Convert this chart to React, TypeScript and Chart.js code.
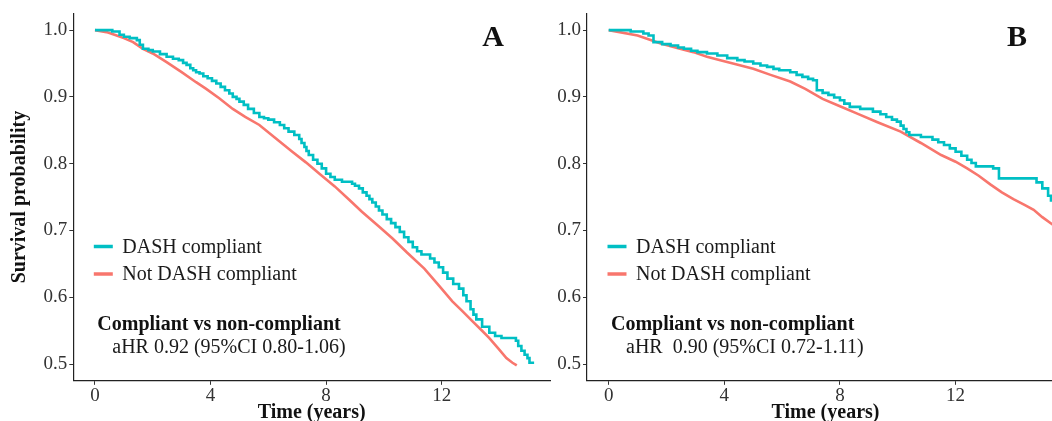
import React, { useEffect, useRef } from "react";
import { Chart, registerables } from "chart.js";
Chart.register(...registerables);

// ---------- data ----------
const xTickValues = [0, 4, 8, 12];
const yTickValues = [0.5, 0.6, 0.7, 0.8, 0.9, 1.0];
const seriesNames = ["DASH compliant", "Not DASH compliant"];
const seriesColors = ["#00BFC4", "#F8766D"];

const panelA_dash_time = [0, 0.6, 0.85, 1.0, 1.2, 1.45, 1.55, 1.66, 1.85, 2.0, 2.25, 2.48, 2.7, 2.9, 3.05, 3.17, 3.3, 3.4, 3.5, 3.62, 3.75, 3.9, 4.05, 4.2, 4.35, 4.5, 4.65, 4.77, 4.9, 5.0, 5.15, 5.3, 5.5, 5.69, 5.85, 6.0, 6.2, 6.4, 6.55, 6.7, 6.9, 7.07, 7.15, 7.25, 7.32, 7.4, 7.55, 7.7, 7.85, 8.0, 8.15, 8.3, 8.55, 8.9, 9.0, 9.14, 9.27, 9.4, 9.5, 9.6, 9.72, 9.83, 9.95, 10.1, 10.25, 10.4, 10.55, 10.7, 10.85, 11.0, 11.15, 11.3, 11.6, 11.75, 11.9, 12.05, 12.2, 12.4, 12.6, 12.75, 12.86, 13.0, 13.1, 13.2, 13.4, 13.65, 13.85, 14.07, 14.57, 14.65, 14.76, 14.87, 14.97, 15.04, 15.2];
const panelA_dash_surv = [1, 0.998, 0.993, 0.99, 0.988, 0.985, 0.978, 0.972, 0.97, 0.968, 0.964, 0.96, 0.957, 0.955, 0.951, 0.948, 0.943, 0.94, 0.937, 0.935, 0.931, 0.928, 0.924, 0.92, 0.915, 0.91, 0.905, 0.9, 0.897, 0.893, 0.888, 0.882, 0.876, 0.87, 0.868, 0.866, 0.862, 0.858, 0.853, 0.848, 0.843, 0.837, 0.831, 0.825, 0.819, 0.813, 0.806, 0.8, 0.793, 0.785, 0.78, 0.776, 0.773, 0.77, 0.767, 0.763, 0.757, 0.752, 0.747, 0.742, 0.736, 0.73, 0.724, 0.717, 0.711, 0.705, 0.698, 0.69, 0.683, 0.675, 0.669, 0.664, 0.658, 0.652, 0.645, 0.637, 0.628, 0.62, 0.613, 0.603, 0.594, 0.582, 0.574, 0.567, 0.556, 0.547, 0.542, 0.539, 0.535, 0.527, 0.52, 0.514, 0.509, 0.502, 0.502];

const panelA_not_time = [0, 0.4, 0.75, 1.0, 1.32, 1.66, 2.0, 2.48, 3.0, 3.5, 3.85, 4.3, 4.77, 5.2, 5.69, 6.2, 6.83, 7.3, 7.8, 8.3, 8.8, 9.24, 9.8, 10.3, 10.8, 11.4, 11.9, 12.37, 12.7, 13.07, 13.4, 13.65, 13.95, 14.24, 14.45, 14.6];
const panelA_not_surv = [1, 0.997, 0.992, 0.988, 0.982, 0.972, 0.965, 0.952, 0.937, 0.922, 0.912, 0.898, 0.882, 0.87, 0.858, 0.84, 0.818, 0.802, 0.784, 0.766, 0.746, 0.728, 0.707, 0.688, 0.667, 0.643, 0.618, 0.594, 0.58, 0.564, 0.55, 0.539, 0.524, 0.509, 0.502, 0.498];

const panelB_dash_time = [0, 0.76, 1.2, 1.38, 1.55, 1.85, 2.14, 2.4, 2.6, 2.85, 3.07, 3.4, 3.76, 4.1, 4.45, 4.7, 5.0, 5.25, 5.48, 5.7, 5.9, 6.28, 6.5, 6.7, 6.9, 7.07, 7.2, 7.4, 7.6, 7.8, 8.0, 8.15, 8.34, 8.7, 9.14, 9.4, 9.6, 9.8, 9.97, 10.1, 10.2, 10.3, 10.4, 10.8, 11.2, 11.4, 11.6, 11.8, 12.0, 12.2, 12.4, 12.55, 12.7, 13.3, 13.5, 14.55, 14.8, 15.0, 15.2, 15.3, 15.45];
const panelB_dash_surv = [1, 0.998, 0.995, 0.992, 0.982, 0.979, 0.977, 0.974, 0.972, 0.969, 0.967, 0.965, 0.962, 0.958, 0.955, 0.953, 0.95, 0.947, 0.945, 0.942, 0.94, 0.937, 0.933, 0.93, 0.927, 0.925, 0.91, 0.906, 0.903, 0.899, 0.895, 0.89, 0.885, 0.882, 0.878, 0.874, 0.87, 0.866, 0.863, 0.857, 0.852, 0.847, 0.843, 0.84, 0.836, 0.832, 0.828, 0.823, 0.818, 0.812, 0.806, 0.801, 0.796, 0.793, 0.778, 0.778, 0.772, 0.763, 0.752, 0.745, 0.74];

const panelB_not_time = [0, 1.0, 1.8, 2.4, 2.93, 3.4, 3.86, 4.4, 5.0, 5.6, 6.28, 6.8, 7.4, 8.0, 8.6, 9.3, 10.1, 10.8, 11.5, 12.0, 12.4, 12.8, 13.2, 13.6, 14.0, 14.4, 14.7, 15.0, 15.35, 15.6];
const panelB_not_surv = [1, 0.992, 0.98, 0.973, 0.967, 0.96, 0.955, 0.949, 0.942, 0.933, 0.923, 0.912, 0.897, 0.886, 0.875, 0.862, 0.848, 0.831, 0.813, 0.803, 0.793, 0.782, 0.769, 0.757, 0.747, 0.738, 0.731, 0.72, 0.709, 0.703];

const panelLetters = ["A", "B"];
const statTitle = "Compliant vs non-compliant";
const statTexts = ["aHR 0.92 (95%CI 0.80-1.06)", "aHR  0.90 (95%CI 0.72-1.11)"];
const xTitle = "Time (years)";
const yTitle = "Survival probability";

// ---------- drawing ----------
const FONT = "'Liberation Serif', 'Times New Roman', serif";
const X_MIN = -0.75, X_MAX = 15.75, Y_MIN = 0.475, Y_MAX = 1.025;

const zip = (t: number[], s: number[]) => t.map((x, i) => ({ x, y: s[i] }));

const panelTextPlugin = {
  id: "panelText",
  afterDraw(chart: any, _args: any, opts: any) {
    const { ctx, chartArea } = chart;
    const L = chartArea.left;
    ctx.save();
    ctx.textBaseline = "middle";
    ctx.textAlign = "left";
    chart.data.datasets.forEach((ds: any, i: number) => {
      const y = opts.legendY[i];
      ctx.strokeStyle = ds.borderColor;
      ctx.lineWidth = 3.5;
      ctx.beginPath();
      ctx.moveTo(L + opts.keyX, y);
      ctx.lineTo(L + opts.keyX + 19, y);
      ctx.stroke();
      ctx.fillStyle = "#1a1a1a";
      ctx.font = `20px ${FONT}`;
      ctx.fillText(ds.label, L + opts.labelX, y + 1);
    });
    ctx.fillStyle = "#111";
    ctx.font = `bold 20px ${FONT}`;
    ctx.fillText(statTitle, L + opts.boldX, opts.boldY);
    ctx.font = `20px ${FONT}`;
    ctx.fillStyle = "#1a1a1a";
    ctx.fillText(opts.stat, L + opts.statX, opts.statY);
    ctx.font = `bold 30px ${FONT}`;
    ctx.textAlign = "center";
    ctx.fillStyle = "#111";
    ctx.fillText(opts.letter, L + opts.letterX, opts.letterY);
    ctx.restore();
  },
};

type PanelProps = {
  left: number;
  width: number;
  yAxisWidth: number;
  padRight: number;
  showYTitle: boolean;
  dash: { x: number; y: number }[];
  notDash: { x: number; y: number }[];
  letter: string;
  letterX: number;
  stat: string;
};

function Panel(p: PanelProps) {
  const ref = useRef<HTMLCanvasElement | null>(null);
  useEffect(() => {
    if (!ref.current) return;
    const top = 11.2;
    const xAxisH = 40.2;
    const chart = new Chart(ref.current, {
      type: "line",
      data: {
        datasets: [
          { label: seriesNames[0], data: p.dash, borderColor: seriesColors[0], borderWidth: 2.6, pointRadius: 0, stepped: true, fill: false },
          { label: seriesNames[1], data: p.notDash, borderColor: seriesColors[1], borderWidth: 2.6, pointRadius: 0, stepped: false, tension: 0, fill: false },
        ],
      },
      plugins: [panelTextPlugin],
      options: {
        animation: false,
        responsive: false,
        maintainAspectRatio: false,
        layout: { padding: { top, right: p.padRight, bottom: 0, left: 0 } },
        plugins: {
          legend: { display: false },
          tooltip: { enabled: false },
          panelText: {
            legendY: [246.5, 274],
            keyX: 20.5,
            labelX: 49,
            boldX: 24,
            boldY: 324.5,
            statX: 39,
            statY: 348,
            letter: p.letter,
            letterX: p.letterX,
            letterY: 38,
            stat: p.stat,
          },
        } as any,
        scales: {
          x: {
            type: "linear",
            min: X_MIN,
            max: X_MAX,
            afterBuildTicks: (s: any) => { s.ticks = xTickValues.map((v) => ({ value: v })); },
            afterFit: (s: any) => { s.height = xAxisH; },
            ticks: { autoSkip: false, maxRotation: 0, color: "#333", font: { family: FONT, size: 19 }, padding: 0 },
            grid: { drawOnChartArea: false, drawTicks: true, tickLength: 4, color: "#333", lineWidth: 1 },
            border: { display: true, color: "#222", width: 1.2 },
            title: { display: true, text: xTitle, color: "#111", font: { family: FONT, size: 20, weight: "bold", lineHeight: 1 }, padding: { top: 0, bottom: -2 } },
          },
          y: {
            type: "linear",
            min: Y_MIN,
            max: Y_MAX,
            afterBuildTicks: (s: any) => { s.ticks = yTickValues.map((v) => ({ value: v })); },
            afterFit: (s: any) => { s.width = p.yAxisWidth; },
            ticks: { color: "#333", font: { family: FONT, size: 19 }, padding: 2, callback: (v: any) => Number(v).toFixed(1) },
            grid: { drawOnChartArea: false, drawTicks: true, tickLength: 4, color: "#333", lineWidth: 1 },
            border: { display: true, color: "#222", width: 1.2 },
            title: { display: p.showYTitle, text: yTitle, color: "#111", font: { family: FONT, size: 20, weight: "bold", lineHeight: 1 }, padding: { top: 9.5, bottom: 0 } },
          },
        },
      } as any,
    });
    return () => chart.destroy();
  }, []);
  return (
    <canvas
      ref={ref}
      width={p.width}
      height={421}
      style={{ position: "absolute", left: p.left, top: 0, width: p.width, height: 421 }}
    />
  );
}

export default function App() {
  return (
    <div style={{ position: "absolute", left: 0, top: 0, width: 1052, height: 421, overflow: "hidden", background: "#fff" }}>
      <Panel
        left={0}
        width={552}
        yAxisWidth={73.3}
        padRight={2}
        showYTitle={true}
        dash={zip(panelA_dash_time, panelA_dash_surv)}
        notDash={zip(panelA_not_time, panelA_not_surv)}
        letter={panelLetters[0]}
        letterX={419.7}
        stat={statTexts[0]}
      />
      <Panel
        left={530}
        width={540}
        yAxisWidth={57}
        padRight={6}
        showYTitle={false}
        dash={zip(panelB_dash_time, panelB_dash_surv)}
        notDash={zip(panelB_not_time, panelB_not_surv)}
        letter={panelLetters[1]}
        letterX={430}
        stat={statTexts[1]}
      />
    </div>
  );
}
